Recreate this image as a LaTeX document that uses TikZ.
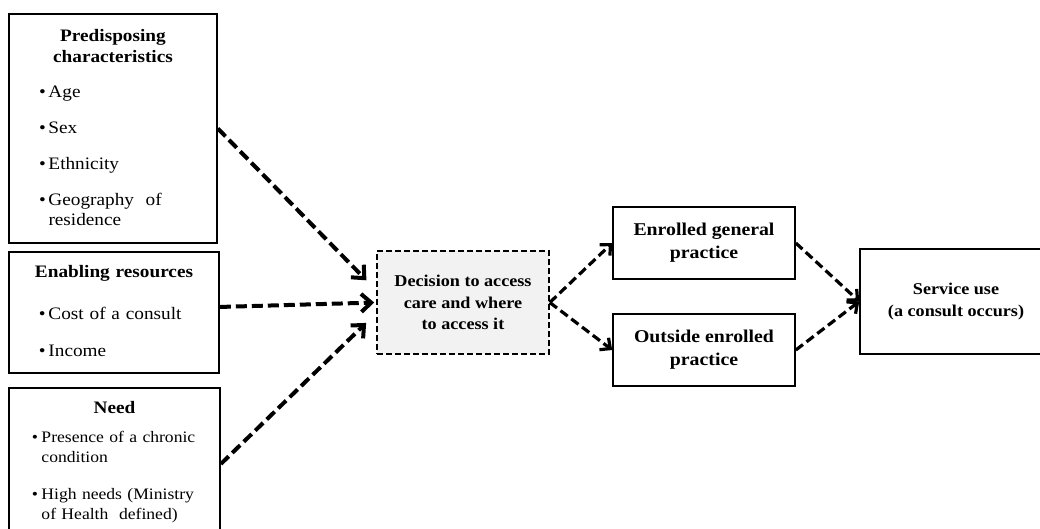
\documentclass[tikz,border=0pt]{standalone}
\usepackage{fontspec}
\setmainfont{Liberation Serif}[FakeStretch=1.1]
\usetikzlibrary{arrows.meta,positioning}
\setlength{\parindent}{0pt}
\newlength{\bulletskip}
\newcommand{\boxtitle}[1]{{\centering\bfseries\fontsize{17.5}{21}\selectfont #1\par}}
\newcommand{\bitem}[2][16pt]{\par\vspace{#1}\raggedright\leftskip=\bulletskip\hangindent=9.5pt\hangafter=1\noindent\makebox[9.5pt][l]{\textbullet}#2}

\begin{document}
\begin{tikzpicture}[x=1pt,y=1pt,
	panel/.style={draw, line width=1.6pt, fill=white},
	listtext/.style={inner sep=0pt, anchor=north, font=\fontsize{17.5}{19.5}\selectfont},
	boxlabel/.style={align=center, font=\bfseries\fontsize{17}{21.5}\selectfont},
	flow/.style={-{Straight Barb[length=10pt,width=18pt]}, line width=4pt, dash pattern=on 11pt off 5pt},
	flowthin/.style={-{Straight Barb[length=8pt,width=15pt]}, line width=3.2pt, dash pattern=on 9pt off 4.5pt},
]

	\useasboundingbox (0,0) rectangle (1040,528);
	\clip (0,0) rectangle (1040,528);

	%factors on the left
	\node[panel, minimum width=208pt, minimum height=229pt] (pre) at (113,399.5) {};
	\node[listtext, text width=208pt] (pretxt) at ([yshift=-16pt]pre.north) {%
		\setlength{\bulletskip}{30pt}%
		\boxtitle{Predisposing\\characteristics}
		\bitem[15.5pt]{Age}
		\bitem[16.5pt]{Sex}
		\bitem[16.5pt]{Ethnicity}
		\bitem[16.5pt]{Geography \ of\newline residence}\par};

	\node[panel, minimum width=210pt, minimum height=121pt] (ena) at (114,215.5) {};
	\node[listtext, text width=210pt] (enatxt) at ([yshift=-14pt]ena.north) {%
		\setlength{\bulletskip}{30pt}%
		\boxtitle{Enabling resources}
		\bitem[22.5pt]{Cost of a consult}
		\bitem[17.5pt]{Income}\par};

	\node[panel, minimum width=211pt, minimum height=152pt] (need) at (114.5,64) {};
	\node[listtext, text width=211pt, font=\fontsize{16}{20}\selectfont] (needtxt) at ([yshift=-14pt]need.north) {%
		\setlength{\bulletskip}{23pt}%
		\boxtitle{Need}
		\bitem[9pt]{Presence of a chronic\newline condition}
		\bitem[17pt]{High needs (Ministry\newline of Health \ defined)}\par};

	%decision and where care is accessed
	\node[draw, line width=1.6pt, dash pattern=on 6pt off 3pt, fill=black!5, minimum width=172pt, minimum height=103pt, boxlabel, font=\bfseries\fontsize{16.5}{21.7}\selectfont] (dec) at (463,225.5) {Decision to access\\care and where\\to access it};
	\node[panel, minimum width=182pt, minimum height=72pt, boxlabel, font=\bfseries\fontsize{18}{23}\selectfont] (enr) at (704,285) {Enrolled general\\practice};
	\node[panel, minimum width=182pt, minimum height=72pt, boxlabel, font=\bfseries\fontsize{18}{23}\selectfont] (out) at (704,178) {Outside enrolled\\practice};
	\node[panel, minimum width=192pt, minimum height=105pt, boxlabel, font=\bfseries\fontsize{16.5}{22}\selectfont] (svc) at (956,226.5) {Service use\\(a consult occurs)};

	%arrows
	\draw[flow, shorten >=14pt] (pre.east) -- (dec.172);
	\draw[flow, shorten >=2pt] (ena.3) -- (dec.west);
	\draw[flow, shorten >=14pt] (need.east) -- (dec.187);
	\draw[flowthin] (dec.east) -- (enr.west);
	\draw[flowthin] (dec.east) -- (out.west);
	\draw[flowthin] (enr.east) -- (svc.west);
	\draw[flowthin] (out.east) -- (svc.west);

\end{tikzpicture}
\end{document}
